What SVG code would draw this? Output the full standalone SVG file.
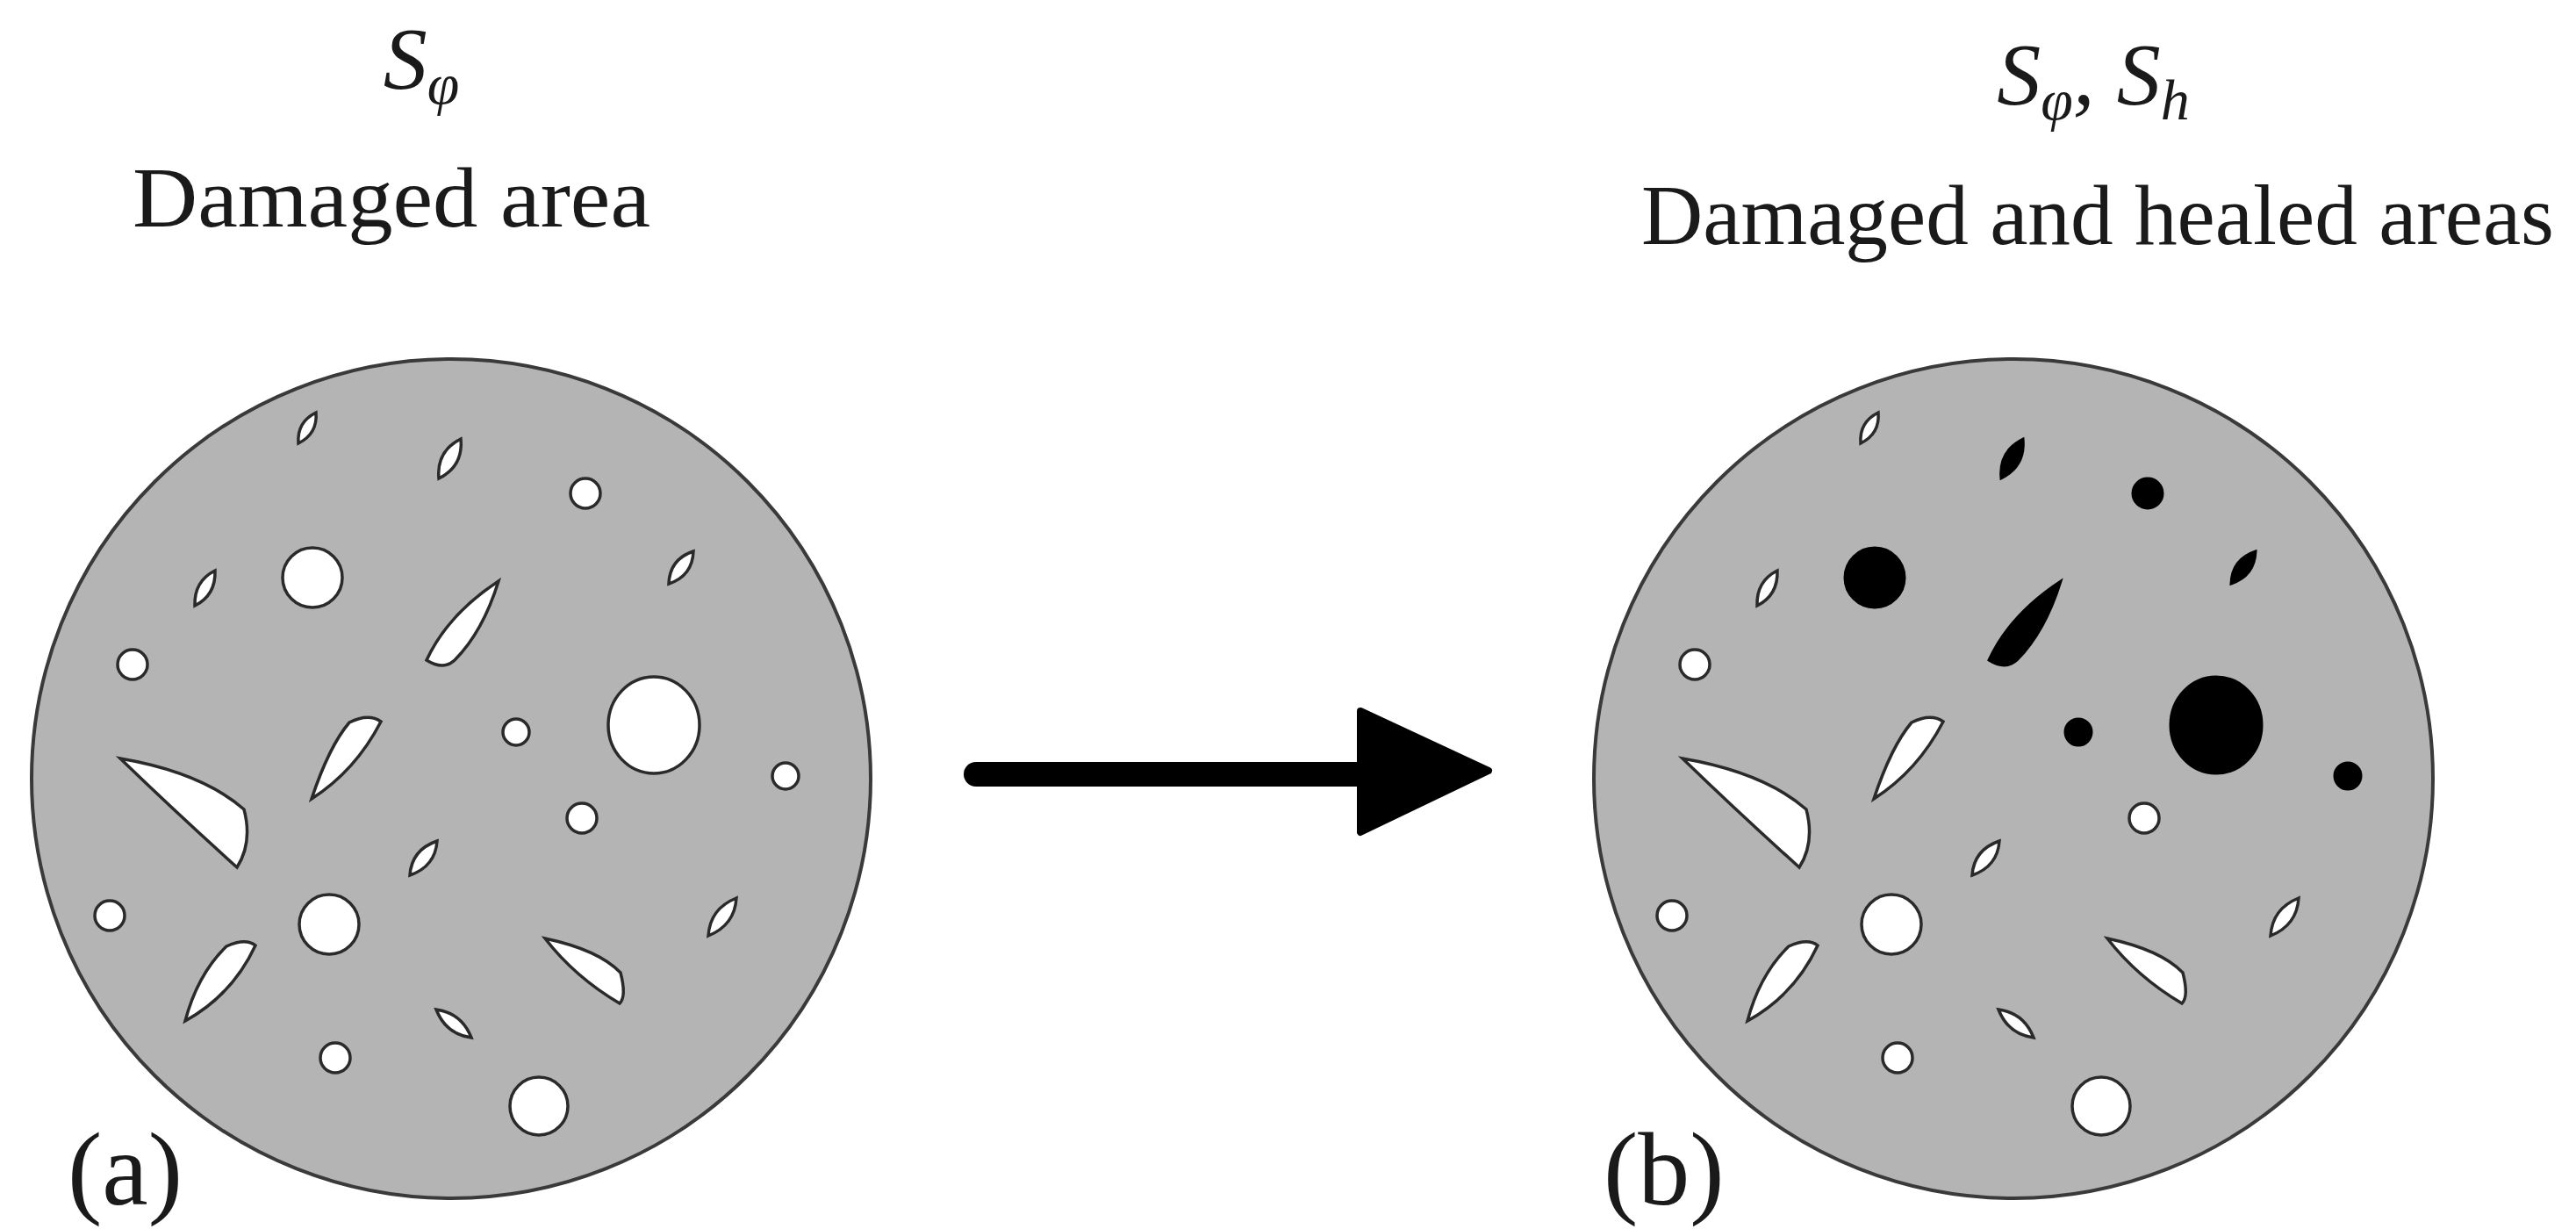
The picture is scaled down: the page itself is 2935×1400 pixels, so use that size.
<svg xmlns="http://www.w3.org/2000/svg" width="2935" height="1400" viewBox="0 0 2935 1400">
<style>
.disk{fill:#b4b4b4;stroke:#3a3a3a;stroke-width:4}
.h{fill:#fff;stroke:#2a2a2a;stroke-width:3.5}
.k{fill:#000;stroke:#000;stroke-width:3}
.t{font-family:"Liberation Serif",serif;fill:#1a1a1a}
.m{font-family:"Liberation Serif",serif;font-style:italic;fill:#1a1a1a}
</style>
<rect width="2935" height="1400" fill="#fff"/>
<g id="title-a">
<text class="m" x="480" y="100" font-size="100" text-anchor="middle">S<tspan font-size="66" dy="18">φ</tspan></text>
<text class="t" x="446" y="258" font-size="98" text-anchor="middle" textLength="590" lengthAdjust="spacingAndGlyphs">Damaged area</text>
</g>
<g id="title-b">
<text class="m" x="2385" y="118" font-size="100" text-anchor="middle">S<tspan font-size="66" dy="18">φ</tspan><tspan dy="-18">, S</tspan><tspan font-size="66" dy="18">h</tspan></text>
<text class="t" x="2390" y="278" font-size="98" text-anchor="middle" textLength="1040" lengthAdjust="spacingAndGlyphs">Damaged and healed areas</text>
</g>
<g id="disk-a">
<circle class="disk" cx="514" cy="887" r="478"/>
<path class="h" d="M340,505 Q362,494 360,470 Q338,481 340,505Z"/>
<path class="h" d="M500,545 Q528,531 525,500 Q497,514 500,545Z"/>
<circle class="h" cx="667" cy="562" r="17"/>
<circle class="h" cx="356" cy="658" r="34"/>
<path class="h" d="M222,690 Q246,678 245,650 Q221,662 222,690Z"/>
<path class="h" d="M762,665 Q789,656 790,628 Q763,637 762,665Z"/>
<path class="h" d="M568,662 Q510,700 486,752 Q505,764 518,752 Q550,720 568,662Z"/>
<circle class="h" cx="151" cy="757" r="17"/>
<circle class="h" cx="588" cy="834" r="15"/>
<ellipse class="h" cx="745" cy="826" rx="52" ry="55"/>
<path class="h" d="M355,910 Q375,850 398,823 Q420,812 434,822 Q405,878 355,910Z"/>
<circle class="h" cx="895" cy="884" r="15"/>
<path class="h" d="M137,864 Q230,880 278,922 Q288,960 270,988 Q200,925 137,864Z"/>
<circle class="h" cx="663" cy="932" r="17"/>
<path class="h" d="M467,997 Q496,987 498,958 Q469,968 467,997Z"/>
<circle class="h" cx="125" cy="1043" r="17"/>
<circle class="h" cx="375" cy="1053" r="34"/>
<path class="h" d="M807,1066 Q837,1054 839,1023 Q809,1035 807,1066Z"/>
<path class="h" d="M211,1163 Q225,1110 258,1078 Q280,1068 291,1077 Q265,1133 211,1163Z"/>
<path class="h" d="M621,1069 Q682,1082 707,1108 Q714,1135 706,1143 Q655,1113 621,1069Z"/>
<path class="h" d="M497,1150 Q508,1178 537,1182 Q526,1154 497,1150Z"/>
<circle class="h" cx="382" cy="1205" r="17"/>
<circle class="h" cx="614" cy="1260" r="33"/>
<text class="t" x="77" y="1372" font-size="118">(a)</text>
</g>
<g id="disk-b" transform="translate(1780,0)">
<circle class="disk" cx="514" cy="887" r="478"/>
<path class="h" d="M340,505 Q362,494 360,470 Q338,481 340,505Z"/>
<path class="k" d="M500,545 Q528,531 525,500 Q497,514 500,545Z"/>
<circle class="k" cx="667" cy="562" r="17"/>
<circle class="k" cx="356" cy="658" r="34"/>
<path class="h" d="M222,690 Q246,678 245,650 Q221,662 222,690Z"/>
<path class="k" d="M762,665 Q789,656 790,628 Q763,637 762,665Z"/>
<path class="k" d="M568,662 Q510,700 486,752 Q505,764 518,752 Q550,720 568,662Z"/>
<circle class="h" cx="151" cy="757" r="17"/>
<circle class="k" cx="588" cy="834" r="15"/>
<ellipse class="k" cx="745" cy="826" rx="52" ry="55"/>
<path class="h" d="M355,910 Q375,850 398,823 Q420,812 434,822 Q405,878 355,910Z"/>
<circle class="k" cx="895" cy="884" r="15"/>
<path class="h" d="M137,864 Q230,880 278,922 Q288,960 270,988 Q200,925 137,864Z"/>
<circle class="h" cx="663" cy="932" r="17"/>
<path class="h" d="M467,997 Q496,987 498,958 Q469,968 467,997Z"/>
<circle class="h" cx="125" cy="1043" r="17"/>
<circle class="h" cx="375" cy="1053" r="34"/>
<path class="h" d="M807,1066 Q837,1054 839,1023 Q809,1035 807,1066Z"/>
<path class="h" d="M211,1163 Q225,1110 258,1078 Q280,1068 291,1077 Q265,1133 211,1163Z"/>
<path class="h" d="M621,1069 Q682,1082 707,1108 Q714,1135 706,1143 Q655,1113 621,1069Z"/>
<path class="h" d="M497,1150 Q508,1178 537,1182 Q526,1154 497,1150Z"/>
<circle class="h" cx="382" cy="1205" r="17"/>
<circle class="h" cx="614" cy="1260" r="33"/>
<text class="t" x="47" y="1372" font-size="118">(b)</text>
</g>
<g id="connectors">
<line x1="1112" y1="882" x2="1560" y2="882" stroke="#000" stroke-width="28" stroke-linecap="round"/>
<path d="M1550,810 L1696,878 L1550,948 Z" fill="#000" stroke="#000" stroke-width="8" stroke-linejoin="round"/>
</g>
</svg>
